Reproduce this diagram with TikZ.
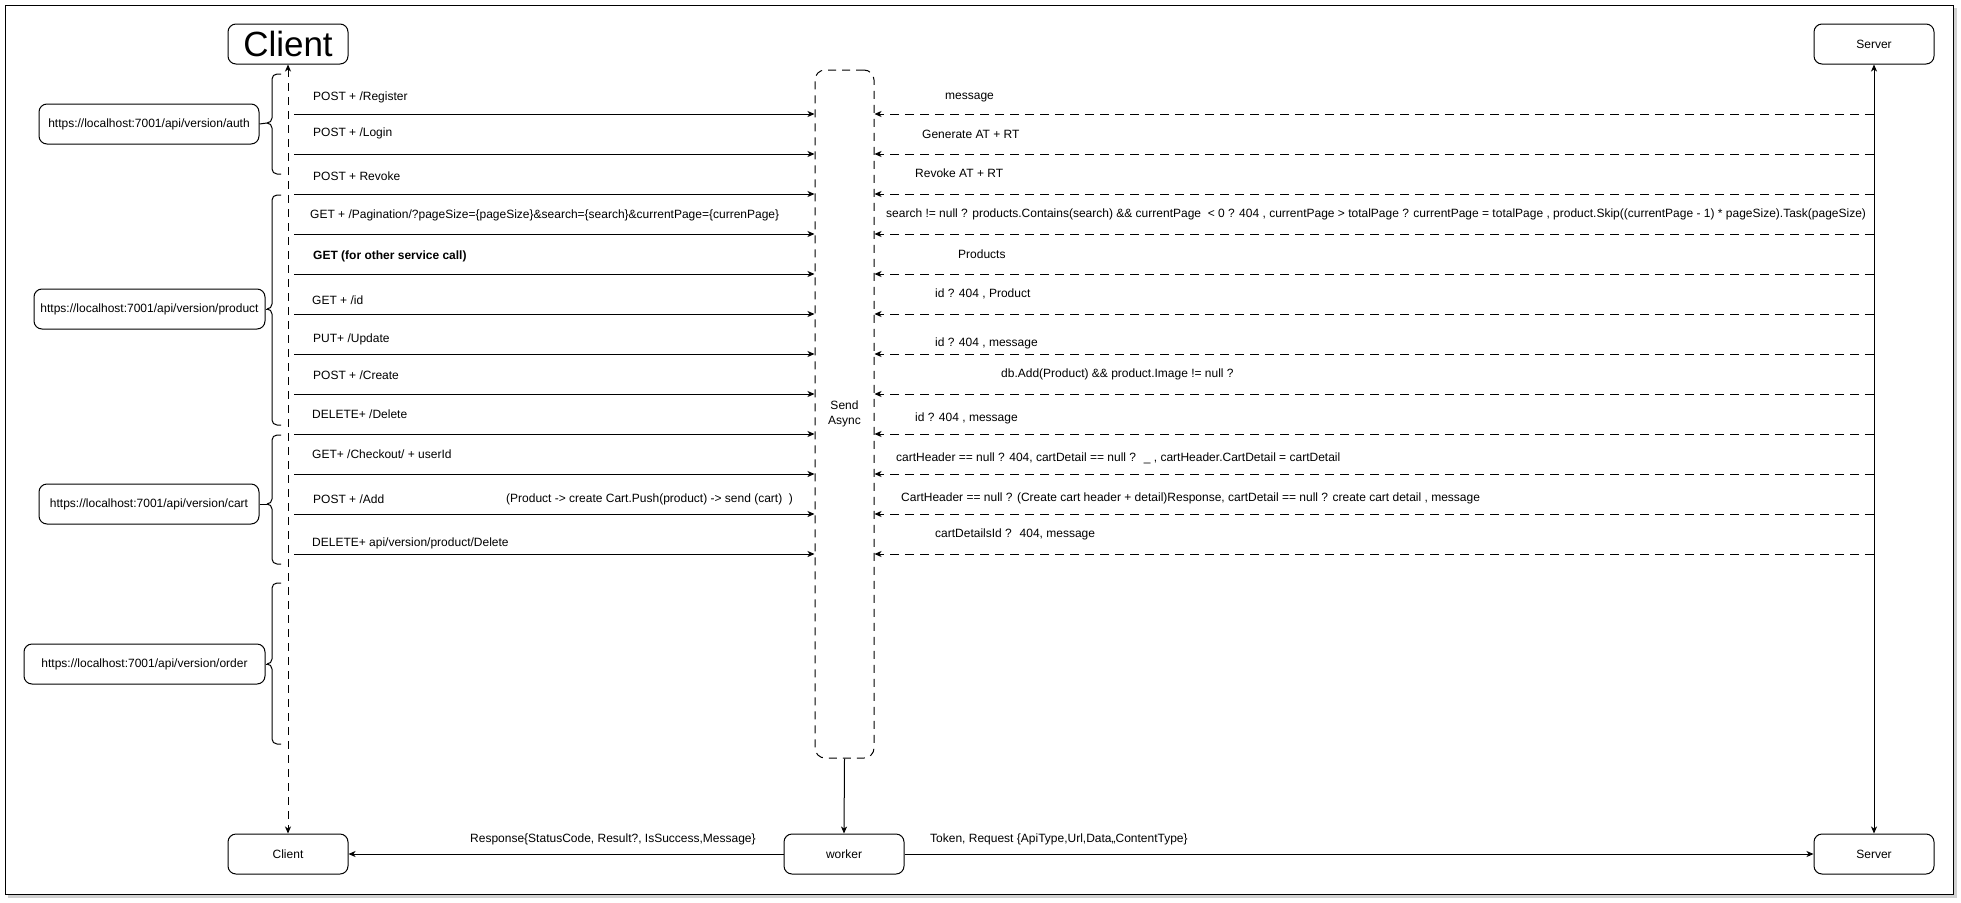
\documentclass[tikz,border=0pt]{standalone}
\usepackage{fontspec}
\setmainfont{Liberation Sans}
\usetikzlibrary{arrows.meta}
\newcommand\lblfont{\fontsize{12}{14.5}\selectfont}
\begin{document}
\begin{tikzpicture}[x=1pt,y=-1pt,
  box/.style={draw, line width=1pt, rounded corners=8pt, minimum width=120pt, minimum height=40pt, inner sep=0pt, font=\lblfont},
  lab/.style={anchor=west, inner sep=0pt, font=\lblfont},
  req/.style={-{Stealth[length=7pt,width=6pt,inset=2pt]}, line width=1pt},
  resp/.style={req, dash pattern=on 9pt off 6pt},
  bracestyle/.style={line width=1pt, rounded corners=5pt},
]
\useasboundingbox (0,0) rectangle (1961,902);
% frame with shadow
\fill[black!18] (8,8) rectangle (1957,898);
\draw[line width=1pt, fill=white] (5,5) rectangle (1953,894);

% participants
\node[box, font=\fontsize{35}{40}\selectfont] (ct) at (288,44) {Client};
\node[box] (st) at (1874,44) {Server};
\node[box] (cb) at (288,854) {Client};
\node[box] (wk) at (844,854) {worker};
\node[box] (sb) at (1874,854) {Server};
\node[draw, line width=1pt, dash pattern=on 8pt off 6pt, rounded corners=10pt, minimum width=59pt, minimum height=688pt, inner sep=0pt, align=center, font=\lblfont] (sa) at (844.5,414) {Send\\Async};

% endpoint boxes
\node[box, minimum width=220pt] (auth) at (149,124) {https://localhost:7001/api/version/auth};
\node[box, minimum width=231pt] (prod) at (149.5,309) {https://localhost:7001/api/version/product};
\node[box, minimum width=220pt] (cart) at (149,504) {https://localhost:7001/api/version/cart};
\node[box, minimum width=241pt] (order) at (144.5,664) {https://localhost:7001/api/version/order};

% braces
\foreach \t/\b/\m/\n in {74/174/123/A, 195/425/309/P, 435/564/504/C, 583/744/664/O}{
  \draw[bracestyle] (281,\t) -- (272,\t) -- (272,\m) -- (267,\m);
  \draw[bracestyle] (267,\m) -- (272,\m) -- (272,\b) -- (281,\b);
  \coordinate (tip\n) at (267,\m);
}
\draw[line width=1pt] (auth.east) -- (tipA);
\draw[line width=1pt] (prod.east) -- (tipP);
\draw[line width=1pt] (cart.east) -- (tipC);
\draw[line width=1pt] (order.east) -- (tipO);

% lifelines
\draw[{Stealth[length=7pt,width=6pt,inset=2pt]}-{Stealth[length=7pt,width=6pt,inset=2pt]}, line width=1pt, dash pattern=on 8pt off 6pt] (ct.south) -- (cb.north);
\draw[{Stealth[length=7pt,width=6pt,inset=2pt]}-{Stealth[length=7pt,width=6pt,inset=2pt]}, line width=1pt] (st.south) -- (sb.north);

% requests and responses
\foreach \i in {0,...,11}{
  \coordinate (q\i) at (294,114+40*\i);
  \coordinate (p\i) at (1874,114+40*\i);
  \draw[req] (q\i) -- (q\i -| sa.west);
  \draw[resp] (p\i) -- (p\i -| sa.east);
}

% bottom connectors
\draw[req] (sa.south) -- (wk.north);
\draw[req] (wk.west) -- (cb.east);
\draw[req] (wk.east) -- (sb.west);
\node[lab] (lresp) at (470,839) {Response\{StatusCode, Result?, IsSuccess,Message\}};
\node[lab] (ltok) at (930,839) {Token, Request \{ApiType,Url,Data,,ContentType\}};

% request labels
\node[lab] (a1) at (313,97) {POST + /Register};
\node[lab] (a2) at (313,133) {POST + /Login};
\node[lab] (a3) at (313,176) {POST + Revoke};
\node[lab] (a4) at (310,215) {GET + /Pagination/?pageSize=\{pageSize\}\&search=\{search\}\&currentPage=\{currenPage\}};
\node[lab, font=\lblfont\bfseries] (a5) at (313,256) {GET (for other service call)};
\node[lab] (a6) at (312,300) {GET + /id};
\node[lab] (a7) at (313,339) {PUT+ /Update};
\node[lab] (a8) at (313,375) {POST + /Create};
\node[lab] (a9) at (312,414) {DELETE+ /Delete};
\node[lab] (a10) at (312,454) {GET+ /Checkout/ + userId};
\node[lab] (a11) at (313,499) {POST + /Add};
\node[lab] (a11b) at (506,499) {(Product -> create Cart.Push(product) -> send (cart) \ )};
\node[lab] (a12) at (312,543) {DELETE+ api/version/product/Delete};

% response labels
\node[lab] (b1) at (945,98) {message};
\node[lab] (b2) at (922,134) {Generate AT + RT};
\node[lab] (b3) at (915,173) {Revoke AT + RT};
\node[lab] (b4) at (886,214) {search != null ? products.Contains(search) \&\& currentPage \ < 0 ? 404 , currentPage > totalPage ? currentPage = totalPage , product.Skip((currentPage - 1) * pageSize).Task(pageSize)};
\node[lab] (b5) at (958,254) {Products};
\node[lab] (b6) at (935,294) {id ? 404 , Product};
\node[lab] (b7) at (935,343) {id ? 404 , message};
\node[lab] (b8) at (1001,374) {db.Add(Product) \&\& product.Image != null ?};
\node[lab] (b9) at (915,418) {id ? 404 , message};
\node[lab] (b10) at (896,458) {cartHeader == null ? 404, cartDetail == null ? \ \_ , cartHeader.CartDetail = cartDetail};
\node[lab] (b11) at (901,498) {CartHeader == null ? (Create cart header + detail)Response, cartDetail == null ? create cart detail , message};
\node[lab] (b12) at (935,534) {cartDetailsId ? \ 404, message};
\end{tikzpicture}
\end{document}
